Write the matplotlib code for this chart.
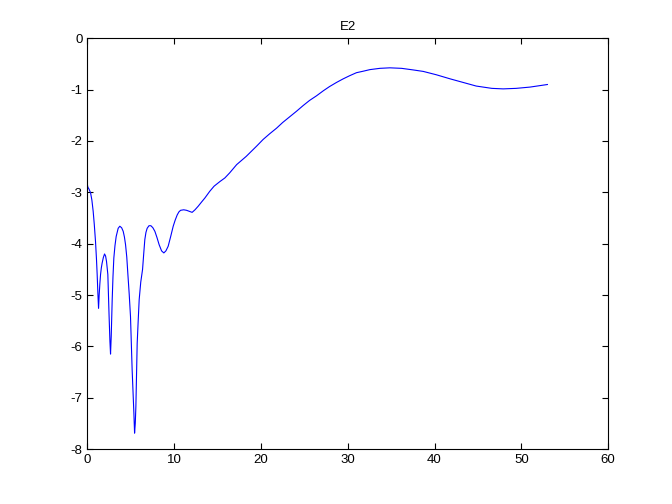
import matplotlib
matplotlib.use("Agg")
import matplotlib.pyplot as plt

title = "E2"
x = [0.0, 0.06, 0.2, 0.37, 0.52, 0.67, 0.8, 0.94, 1.05, 1.13, 1.22, 1.29, 1.36, 1.44, 1.52, 1.61, 1.7, 1.84,
     1.98, 2.1, 2.21, 2.36, 2.5, 2.6, 2.67, 2.75, 2.86, 2.95, 3.05, 3.18, 3.32, 3.55, 3.74, 3.95, 4.13,
     4.27, 4.4, 4.54, 4.67, 4.82, 4.97, 5.16, 5.36, 5.44, 5.52, 5.59, 5.74, 5.87, 5.97, 6.15, 6.36, 6.5,
     6.62, 6.75, 6.89, 7.1, 7.32, 7.55, 7.78, 8.02, 8.27, 8.55, 8.81, 9.05, 9.31, 9.6, 9.89, 10.12, 10.35,
     10.55, 10.74, 11.1, 11.43, 11.75, 12.07, 12.4, 12.77, 13.15, 13.54, 14.1, 14.6, 15.27, 15.84, 16.4,
     17.2, 18.3, 18.72, 19.5, 20.25, 21.0, 21.8, 22.5, 23.3, 24.1, 24.86, 25.6, 26.4, 27.2, 27.9, 28.7,
     29.47, 30.2, 31.0, 31.8, 32.55, 33.7, 34.85, 36.2, 37.5, 38.7, 40.2, 41.8, 43.3, 44.8, 46.6, 47.9,
     49.4, 51.0, 52.0, 53.0]
y = [-2.85, -2.9, -2.94, -3.01, -3.15, -3.37, -3.63, -3.96, -4.3, -4.6, -5.0, -5.26, -5.0, -4.78, -4.6,
     -4.47, -4.38, -4.27, -4.2, -4.24, -4.35, -4.6, -5.39, -5.9, -6.15, -5.8, -5.1, -4.65, -4.28, -4.04,
     -3.86, -3.7, -3.66, -3.69, -3.76, -3.87, -4.02, -4.26, -4.6, -4.98, -5.42, -6.46, -7.3, -7.69, -7.5,
     -7.17, -5.94, -5.45, -5.09, -4.75, -4.5, -4.18, -3.92, -3.78, -3.7, -3.65, -3.65, -3.69, -3.76, -3.88,
     -4.02, -4.14, -4.18, -4.14, -4.05, -3.86, -3.66, -3.54, -3.44, -3.38, -3.35, -3.34, -3.35, -3.37,
     -3.39, -3.34, -3.27, -3.19, -3.11, -2.98, -2.88, -2.79, -2.72, -2.62, -2.46, -2.3, -2.23, -2.1, -1.97,
     -1.86, -1.75, -1.64, -1.53, -1.42, -1.31, -1.21, -1.12, -1.02, -0.94, -0.86, -0.79, -0.73, -0.67,
     -0.64, -0.61, -0.585, -0.575, -0.585, -0.615, -0.645, -0.71, -0.79, -0.86, -0.93, -0.975, -0.985,
     -0.975, -0.95, -0.925, -0.9]
xticks = [0, 10, 20, 30, 40, 50, 60]
yticks = [0, -1, -2, -3, -4, -5, -6, -7, -8]

plt.rcParams['font.family'] = ['Liberation Sans', 'DejaVu Sans']
fig = plt.figure(figsize=(6.72, 5.04), dpi=100)
ax = fig.add_axes([0.13, 0.109, 0.775, 0.815])
ax.plot(x, y, color=(0, 0, 1), linewidth=0.8)
ax.set_xlim(0, 60)
ax.set_ylim(-8, 0)
ax.set_xticks(xticks)
ax.set_yticks(yticks)
ax.set_yticklabels([str(v) for v in yticks])
ax.tick_params(direction='in', top=True, right=True, labelsize=9.5, length=4, width=0.8)
for s in ax.spines.values():
    s.set_linewidth(0.8)
ax.set_title(title, fontsize=9.5, pad=6)
fig.savefig("out.png", dpi=100)
